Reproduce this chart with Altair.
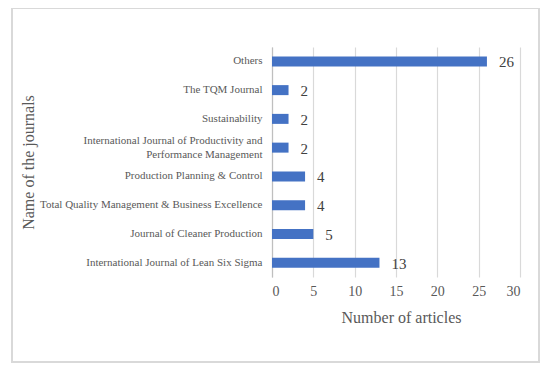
import altair as alt
import pandas as pd

journals = [
    "Others",
    "The TQM Journal",
    "Sustainability",
    "International Journal of Productivity and Performance Management",
    "Production Planning & Control",
    "Total Quality Management & Business Excellence",
    "Journal of Cleaner Production",
    "International Journal of Lean Six Sigma",
]
articles = [26, 2, 2, 2, 4, 4, 5, 13]
x_ticks = [0, 5, 10, 15, 20, 25, 30]

df = pd.DataFrame({"journal": journals, "articles": articles})

FONT = "Liberation Serif"
W, H = 248, 230
LONG = "International Journal of Productivity and Performance Management"

label_expr = (
    f"datum.value == '{LONG}'"
    " ? ['International Journal of Productivity and', 'Performance Management'] : datum.value"
)

x_enc = alt.X(
    "articles:Q",
    scale=alt.Scale(domain=[0, 30], nice=False),
    axis=alt.Axis(
        values=x_ticks,
        title="Number of articles",
        grid=True,
        gridColor="#d9d9d9",
        gridWidth=1.2,
        gridOpacity=1,
        domain=False,
        ticks=False,
        labelFont=FONT,
        labelFontSize=14,
        labelColor="#595959",
        labelPadding=7,
        titleFont=FONT,
        titleFontSize=16,
        titleFontWeight="normal",
        titleColor="#595959",
        titleY=40,
        titleX=129,
        titleBaseline="middle",
    ),
)
y_enc = alt.Y(
    "journal:N",
    sort=journals,
    scale=alt.Scale(paddingInner=0.65, paddingOuter=0.325),
    axis=alt.Axis(
        title="Name of the journals",
        labelExpr=label_expr,
        labelOffset={"expr": f"datum.value == '{LONG}' ? -7 : 0"},
        labelFont=FONT,
        labelFontSize=11,
        labelColor="#595959",
        labelPadding=10,
        labelLimit=300,
        labelLineHeight=14,
        ticks=False,
        grid=False,
        domain=True,
        domainColor="#bfbfbf",
        domainWidth=1.2,
        titleFont=FONT,
        titleFontSize=16,
        titleFontWeight="normal",
        titleColor="#595959",
        titleAngle=-90,
        titleX=-244,
        titleY=H / 2,
        titleAlign="center",
        titleBaseline="middle",
    ),
)

base = alt.Chart(df)

bars = base.mark_bar(color="#4472C4", size=10).encode(x=x_enc, y=y_enc)

text = base.mark_text(
    align="left", baseline="middle", dx=12, dy=1, font=FONT, fontSize=15, color="#404040"
).encode(x=x_enc, y=y_enc, text="articles:Q")

border = base.mark_rect(
    fill=None, stroke="#d9d9d9", strokeWidth=2
).encode(
    x=alt.value(-260), x2=alt.value(267), y=alt.value(-39), y2=alt.value(315)
)

chart = alt.layer(bars, text, border).properties(
    width=W,
    height=H,
    autosize=alt.AutoSizeParams(type="none"),
    padding={"left": 264, "top": 39, "right": 21, "bottom": 86},
    background="white",
).configure_view(stroke=None)

chart.save("out.html", embed_options={"renderer": "svg", "actions": False})
